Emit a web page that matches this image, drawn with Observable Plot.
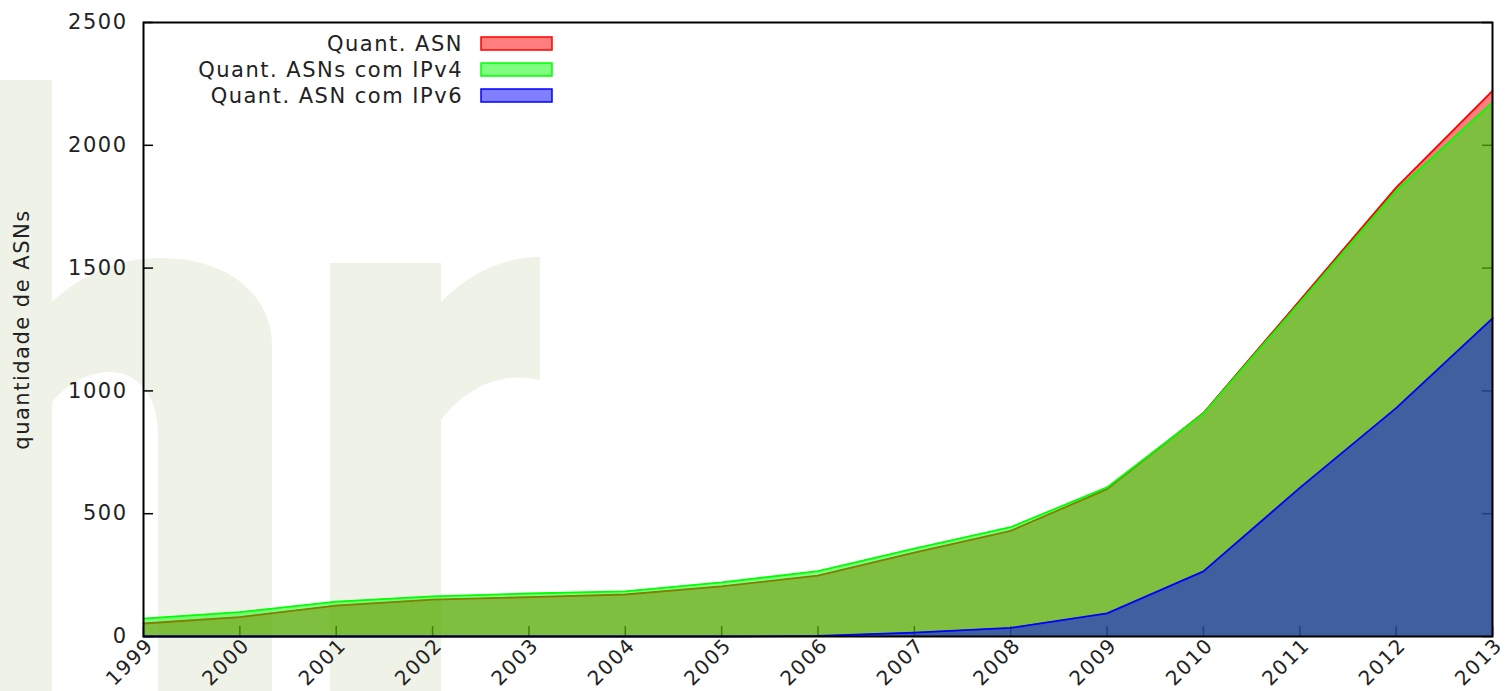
<!DOCTYPE html>
<html>
<head>
<meta charset="utf-8">
<script src="https://cdn.jsdelivr.net/npm/d3@7"></script>
<script src="https://cdn.jsdelivr.net/npm/@observablehq/plot@0.6"></script>
<style>
  html, body { margin: 0; padding: 0; background: white; }
  #chart { width: 1506px; height: 691px; }
</style>
</head>
<body>
<div id="chart"></div>
<script>
// ---- data ----
const years = [1999, 2000, 2001, 2002, 2003, 2004, 2005, 2006, 2007, 2008, 2009, 2010, 2011, 2012, 2013];
const asnTotal = [53, 79, 126, 150, 160, 171, 204, 248, 342, 430, 600, 910, 1368, 1828, 2222];
const asnIPv4  = [73, 99, 142, 163, 175, 184, 220, 266, 358, 445, 607, 908, 1360, 1815, 2175];
const asnIPv6  = [0, 0, 0, 0, 0, 0, 0, 2, 16, 35, 94, 265, 605, 930, 1295];
const yTicks = [0, 500, 1000, 1500, 2000, 2500];
const legendLabels = ["Quant. ASN", "Quant. ASNs com IPv4", "Quant. ASN com IPv6"];
const seriesColors = ["#ff0000", "#00ff00", "#0000ff"];
const yLabel = "quantidade de ASNs";

const rows = years.map((year, i) => ({year, asn: asnTotal[i], v4: asnIPv4[i], v6: asnIPv6[i]}));

const W = 1506, H = 691;
const mL = 143, mR = 14, mT = 22, mB = 55;
const plotW = W - mL - mR, plotH = H - mT - mB;
const tickLen = 10;

// background watermark (decorative logo shapes)
function watermark(index, scales, values, dims) {
  const g = d3.create("svg:g").attr("fill", "#eff2e7");
  g.append("rect").attr("x", 0).attr("y", 80).attr("width", 52).attr("height", H - 80);
  g.append("path").attr("d",
    "M52,302 C85,272 120,258 160,258 C232,258 272,298 272,345 L272,691 L158,691 L158,435 " +
    "C158,398 140,372 110,372 C86,372 66,386 52,402 Z");
  g.append("path").attr("d",
    "M330,263 L441,263 L441,302 C470,272 505,257 540,257 L540,380 C500,370 463,390 441,420 L441,691 L330,691 Z");
  return g.node();
}

function legend(index, scales, values, dims) {
  const g = d3.create("svg:g");
  legendLabels.forEach((lab, i) => {
    const cy = 44 + i * 26;
    g.append("text")
      .attr("x", 463).attr("y", cy).attr("dy", "0.35em")
      .attr("text-anchor", "end").attr("fill", "#222")
      .text(lab);
    g.append("rect")
      .attr("x", 481).attr("y", cy - 7).attr("width", 71).attr("height", 13)
      .attr("fill", seriesColors[i]).attr("fill-opacity", 0.5)
      .attr("stroke", seriesColors[i]).attr("stroke-width", 1.5);
  });
  return g.node();
}

const series = [["asn", 0], ["v4", 1], ["v6", 2]];

const plot = Plot.plot({
  width: W,
  height: H,
  marginLeft: mL,
  marginRight: mR,
  marginTop: mT,
  marginBottom: mB,
  x: {domain: [1999, 2013], axis: null},
  y: {domain: [0, 2500], axis: null},
  style: {
    fontFamily: "'DejaVu Sans', sans-serif",
    fontSize: "21px",
    letterSpacing: "1.5px",
    color: "#222",
    background: "white",
    overflow: "visible"
  },
  marks: [
    watermark,
    // inward tick marks (drawn beneath the areas)
    Plot.ruleY(yTicks, {y: d => d, stroke: "black", strokeWidth: 1.5, insetRight: plotW - tickLen}),
    Plot.ruleY(yTicks, {y: d => d, stroke: "black", strokeWidth: 1.5, insetLeft: plotW - tickLen}),
    Plot.ruleX(years, {x: d => d, stroke: "black", strokeWidth: 1.5, insetTop: plotH - tickLen}),
    ...series.flatMap(([key, i]) => [
      Plot.areaY(rows, {x: "year", y: key, fill: seriesColors[i], fillOpacity: 0.5}),
      Plot.lineY(rows, {x: "year", y: key, stroke: seriesColors[i], strokeWidth: 1.8})
    ]),
    Plot.axisY({ticks: yTicks, tickSize: 0, tickPadding: 16, label: null, tickFormat: d => String(d)}),
    Plot.text(years, {
      x: d => d, text: d => String(d), frameAnchor: "bottom", fontSize: 20,
      rotate: -45, textAnchor: "end", lineAnchor: "bottom", dx: 11, dy: 10, fill: "#222"
    }),
    Plot.text([yLabel], {
      frameAnchor: "left", dx: -121, rotate: -90, textAnchor: "middle", lineAnchor: "middle", fill: "#222"
    }),
    legend,
    Plot.frame({stroke: "black", strokeWidth: 2})
  ]
});

document.getElementById("chart").appendChild(plot);
</script>
</body>
</html>
